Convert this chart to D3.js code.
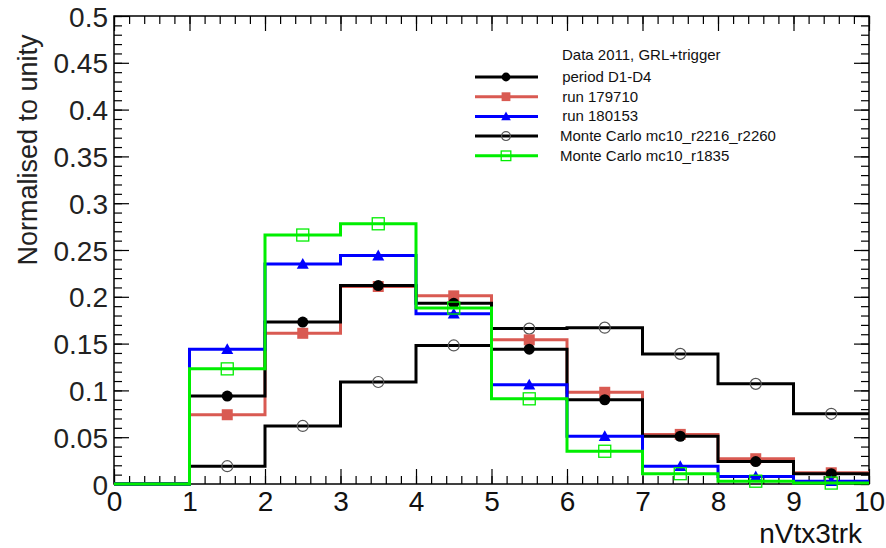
<!DOCTYPE html>
<html>
<head>
<meta charset="utf-8">
<script src="https://cdn.jsdelivr.net/npm/d3@7"></script>
<style>
  html, body { margin: 0; padding: 0; background: #fff; }
  svg { display: block; font-family: "Liberation Sans", Arial, Helvetica, sans-serif; }
</style>
</head>
<body>
<svg id="chart" width="886" height="548"></svg>
<script>
// Bin edges of nVtx3trk (10 unit-wide bins, 0..10)
const binEdges = [0, 1, 2, 3, 4, 5, 6, 7, 8, 9, 10];

// Normalised bin contents, one value per bin
const periodD1D4   = [0, 0.094, 0.173, 0.212, 0.193, 0.144, 0.090, 0.051, 0.024, 0.011];
const run179710    = [0, 0.074, 0.161, 0.211, 0.201, 0.154, 0.098, 0.053, 0.027, 0.012];
const run180153    = [0, 0.144, 0.235, 0.244, 0.182, 0.106, 0.051, 0.019, 0.008, 0.003];
const mcR2216R2260 = [0, 0.019, 0.062, 0.109, 0.148, 0.166, 0.167, 0.139, 0.107, 0.075];
const mcR1835      = [0, 0.123, 0.266, 0.278, 0.188, 0.091, 0.035, 0.011, 0.003, 0.001];

const yTickValues = [0, 0.05, 0.1, 0.15, 0.2, 0.25, 0.3, 0.35, 0.4, 0.45, 0.5];
const xTickValues = [0, 1, 2, 3, 4, 5, 6, 7, 8, 9, 10];

const legendHeader = "Data 2011, GRL+trigger";
const series = [
  { name: "mc2216",  label: "Monte Carlo mc10_r2216_r2260", values: mcR2216R2260, color: "#000000", marker: "openCircle", width: 3 },
  { name: "run179710", label: " run 179710", values: run179710, color: "#d95a52", marker: "square", width: 3 },
  { name: "period",  label: " period D1-D4", values: periodD1D4, color: "#000000", marker: "circle", width: 3 },
  { name: "run180153", label: " run 180153", values: run180153, color: "#0000ff", marker: "triangle", width: 3 },
  { name: "mc1835",  label: "Monte Carlo mc10_r1835", values: mcR1835, color: "#00ee00", marker: "openSquare", width: 3 }
];
const legendOrder = ["period", "run179710", "run180153", "mc2216", "mc1835"];

const svg = d3.select("#chart");
const frame = { left: 114, right: 869, top: 16, bottom: 484 };

const x = d3.scaleLinear().domain([0, 10]).range([frame.left, frame.right]);
const y = d3.scaleLinear().domain([0, 0.5]).range([frame.bottom, frame.top]);

// ---- axes: major + minor ticks on all four sides ----
const tickStyle = g => {
  g.select(".domain").remove();
  g.selectAll(".tick line").attr("stroke", "#000").attr("stroke-width", 1.2);
};
const minorX = d3.range(0, 10.001, 0.2).map(v => +v.toFixed(2));
const minorY = d3.range(0, 0.5001, 0.01).map(v => +v.toFixed(3));

// bottom
svg.append("g").attr("transform", `translate(0,${frame.bottom})`)
  .call(d3.axisTop(x).tickValues(minorX).tickSize(8).tickFormat("")).call(tickStyle);
const xAxis = svg.append("g").attr("transform", `translate(0,${frame.bottom})`)
  .call(d3.axisTop(x).tickValues(xTickValues).tickSize(15).tickFormat(d3.format("d"))).call(tickStyle);
xAxis.selectAll(".tick text")
  .attr("y", 27).attr("dy", 0)
  .attr("font-size", 28).attr("fill", "#111");
// top
svg.append("g").attr("transform", `translate(0,${frame.top})`)
  .call(d3.axisBottom(x).tickValues(minorX).tickSize(8).tickFormat("")).call(tickStyle);
svg.append("g").attr("transform", `translate(0,${frame.top})`)
  .call(d3.axisBottom(x).tickValues(xTickValues).tickSize(15).tickFormat("")).call(tickStyle);
// left
svg.append("g").attr("transform", `translate(${frame.left},0)`)
  .call(d3.axisRight(y).tickValues(minorY).tickSize(8).tickFormat("")).call(tickStyle);
const yAxis = svg.append("g").attr("transform", `translate(${frame.left},0)`)
  .call(d3.axisRight(y).tickValues(yTickValues).tickSize(15).tickFormat(d => d === 0 ? "0" : String(d))).call(tickStyle);
yAxis.selectAll(".tick text")
  .attr("x", -6).attr("dy", "0.36em")
  .attr("text-anchor", "end")
  .attr("font-size", 28).attr("fill", "#222");
// right
svg.append("g").attr("transform", `translate(${frame.right},0)`)
  .call(d3.axisLeft(y).tickValues(minorY).tickSize(8).tickFormat("")).call(tickStyle);
svg.append("g").attr("transform", `translate(${frame.right},0)`)
  .call(d3.axisLeft(y).tickValues(yTickValues).tickSize(15).tickFormat("")).call(tickStyle);

// frame
svg.append("rect")
  .attr("x", frame.left).attr("y", frame.top)
  .attr("width", frame.right - frame.left).attr("height", frame.bottom - frame.top)
  .attr("fill", "none").attr("stroke", "#000").attr("stroke-width", 1.5);

// axis titles
svg.append("text")
  .attr("x", 862).attr("y", 543)
  .attr("text-anchor", "end").attr("font-size", 28).attr("fill", "#111")
  .text("nVtx3trk");
svg.append("text")
  .attr("transform", "translate(37,150) rotate(-90)")
  .attr("text-anchor", "middle").attr("font-size", 27).attr("fill", "#222")
  .text("Normalised to unity");

// ---- markers ----
function drawMarker(g, type, color, cx, cy, s) {
  if (type === "circle") {
    g.append("circle").attr("cx", cx).attr("cy", cy).attr("r", 5.5 * s).attr("fill", color);
  } else if (type === "openCircle") {
    g.append("circle").attr("cx", cx).attr("cy", cy).attr("r", 5.5 * s)
      .attr("fill", "none").attr("stroke", "#555").attr("stroke-width", 1.2);
  } else if (type === "square") {
    const h = 5.5 * s;
    g.append("rect").attr("x", cx - h).attr("y", cy - h).attr("width", 2 * h).attr("height", 2 * h).attr("fill", color);
  } else if (type === "openSquare") {
    const h = 6 * s;
    g.append("rect").attr("x", cx - h).attr("y", cy - h).attr("width", 2 * h).attr("height", 2 * h)
      .attr("fill", "none").attr("stroke", color).attr("stroke-width", 1.3);
  } else if (type === "triangle") {
    const h = 6 * s;
    g.append("path")
      .attr("d", `M${cx},${cy - h} L${cx + h},${cy + h * 0.8} L${cx - h},${cy + h * 0.8} Z`)
      .attr("fill", color);
  }
}

// ---- step histograms ----
const stepLine = d3.line()
  .x(d => x(d[0]))
  .y(d => y(d[1]))
  .curve(d3.curveStepAfter);

const plot = svg.append("g");
series.forEach(s => {
  const pts = s.values.map((v, i) => [binEdges[i], v]);
  pts.push([binEdges[binEdges.length - 1], s.values[s.values.length - 1]]);
  const g = plot.append("g").attr("class", "series-" + s.name);
  g.append("path")
    .attr("d", stepLine(pts))
    .attr("fill", "none")
    .attr("stroke", s.color)
    .attr("stroke-width", s.width)
    .attr("stroke-linejoin", "miter");
  s.values.forEach((v, i) => {
    if (i === 0) return;
    const cx = x((binEdges[i] + binEdges[i + 1]) / 2);
    drawMarker(g, s.marker, s.color, cx, y(v), 1);
  });
});

// ---- legend ----
const legend = svg.append("g");
legend.append("text")
  .attr("x", 562).attr("y", 60)
  .attr("font-size", 15).attr("fill", "#111")
  .text(legendHeader);
legendOrder.forEach((key, i) => {
  const s = series.find(d => d.name === key);
  const ly = 77 + i * 19.7;
  legend.append("line")
    .attr("x1", 475).attr("x2", 538).attr("y1", ly).attr("y2", ly)
    .attr("stroke", s.color).attr("stroke-width", 3);
  drawMarker(legend, s.marker, s.color, 506, ly, 0.8);
  legend.append("text")
    .attr("x", s.marker.startsWith("open") ? 560 : 558).attr("y", ly + 5)
    .attr("font-size", 15).attr("fill", "#111")
    .attr("xml:space", "preserve")
    .text(s.label);
});
</script>
</body>
</html>
